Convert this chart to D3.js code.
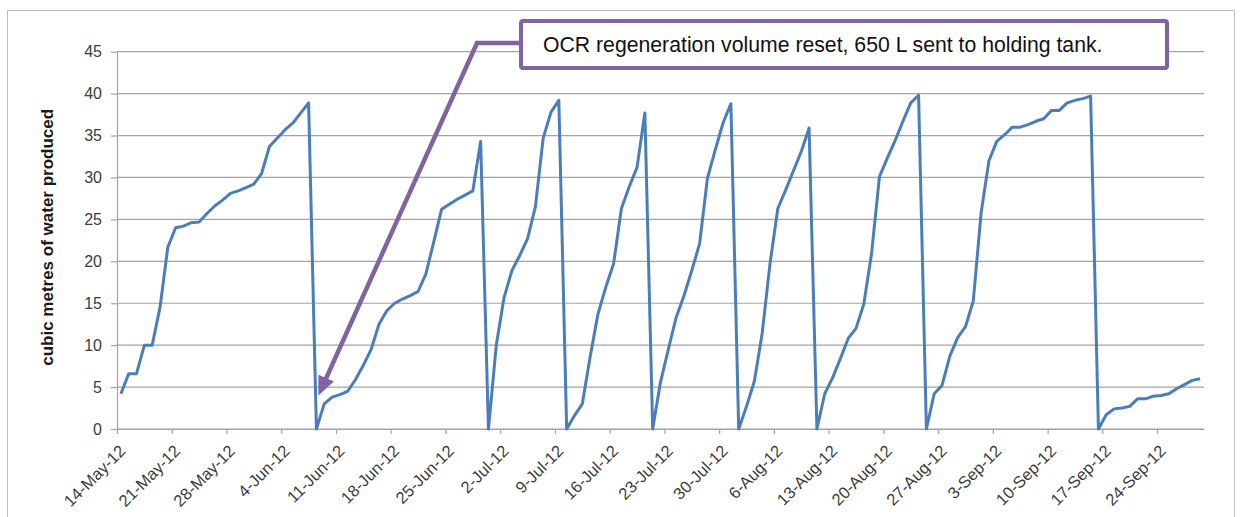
<!DOCTYPE html>
<html>
<head>
<meta charset="utf-8">
<script src="https://cdn.jsdelivr.net/npm/d3@7"></script>
<style>
  html, body { margin: 0; padding: 0; background: #ffffff; }
  svg { display: block; font-family: "Liberation Sans", Arial, sans-serif; }
</style>
</head>
<body>
<svg id="chart" width="1244" height="517"></svg>
<script>
// Daily cumulative product water volume (m³) since the last OCR regeneration.
const firstDay = "2012-05-14";
const lastAxisDay = "2012-09-30";
const volume = [
  4.2, 6.6, 6.6, 10.0, 10.0, 14.5, 21.7, 24.0, 24.2, 24.6,
  24.7, 25.7, 26.6, 27.3, 28.1, 28.4, 28.8, 29.2, 30.5, 33.7,
  34.7, 35.7, 36.5, 37.7, 38.9, 0.0, 3.0, 3.8, 4.1, 4.5,
  5.9, 7.6, 9.5, 12.5, 14.1, 15.0, 15.5, 15.9, 16.4, 18.5,
  22.3, 26.2, 26.8, 27.4, 27.9, 28.4, 34.3, 0.0, 10.0, 15.7,
  18.9, 20.7, 22.7, 26.5, 34.7, 37.8, 39.2, 0.0, 1.6, 3.0,
  8.6, 13.7, 16.9, 19.7, 26.3, 28.9, 31.2, 37.7, 0.0, 5.6,
  9.5, 13.3, 15.9, 18.9, 22.1, 29.9, 33.3, 36.5, 38.8, 0.0,
  2.7, 5.7, 11.4, 19.7, 26.3, 28.5, 30.8, 33.1, 35.9, 0.0,
  4.2, 6.1, 8.4, 10.8, 12.0, 14.9, 21.0, 30.1, 32.3, 34.4,
  36.7, 38.9, 39.8, 0.0, 4.2, 5.2, 8.7, 10.9, 12.2, 15.3,
  25.8, 32.0, 34.3, 35.1, 36.0, 36.0, 36.3, 36.7, 37.0, 38.0,
  38.0, 38.9, 39.2, 39.4, 39.7, 0.0, 1.7, 2.4, 2.5, 2.7,
  3.6, 3.6, 3.9, 4.0, 4.2, 4.8, 5.3, 5.8, 6.0
];

const yTicks = [0, 5, 10, 15, 20, 25, 30, 35, 40, 45];
const xTickLabels = [
  "14-May-12", "21-May-12", "28-May-12", "4-Jun-12", "11-Jun-12",
  "18-Jun-12", "25-Jun-12", "2-Jul-12", "9-Jul-12", "16-Jul-12",
  "23-Jul-12", "30-Jul-12", "6-Aug-12", "13-Aug-12", "20-Aug-12",
  "27-Aug-12", "3-Sep-12", "10-Sep-12", "17-Sep-12", "24-Sep-12"
];
const yTitle = "cubic metres of water produced";
const noteText = "OCR regeneration volume reset, 650 L sent to holding tank.";
// the reset the callout points at
const noteTarget = { time: "2012-06-08T18:00", value: 4 };

const plot = { left: 117, right: 1204, top: 51.7, bottom: 429 };
const lineBlue = "#4a7ebb";
const gridGrey = "#a3a3a3";
const notePurple = "#8064a2";
const labelColor = "#3c3c3c";

const parseDay = d3.timeParse("%Y-%m-%d");
const parseTick = d3.timeParse("%d-%b-%y");
const parseTime = d3.timeParse("%Y-%m-%dT%H:%M");

const start = parseDay(firstDay);
// readings are logged around midday
const series = volume.map((v, i) => ({
  date: d3.timeHour.offset(d3.timeDay.offset(start, i), 12),
  value: v
}));

const x = d3.scaleTime()
  .domain([start, parseDay(lastAxisDay)])
  .range([plot.left, plot.right]);
const y = d3.scaleLinear()
  .domain([0, 45])
  .range([plot.bottom, plot.top]);

const svg = d3.select("#chart");

// outer chart frame
svg.append("rect")
  .attr("x", 7.5).attr("y", 10.5)
  .attr("width", 1227).attr("height", 530)
  .attr("fill", "none")
  .attr("stroke", "#bdbdbd")
  .attr("stroke-width", 1);

// horizontal gridlines
svg.append("g")
  .selectAll("line")
  .data(yTicks)
  .join("line")
  .attr("x1", plot.left).attr("x2", plot.right)
  .attr("y1", d => y(d)).attr("y2", d => y(d))
  .attr("stroke", gridGrey)
  .attr("stroke-width", 1.2);

// y axis
const yAxis = svg.append("g")
  .attr("transform", `translate(${plot.left},0)`)
  .call(d3.axisLeft(y).tickValues(yTicks).tickSize(6).tickPadding(9).tickSizeOuter(0));
yAxis.select(".domain").attr("stroke", gridGrey).attr("stroke-width", 1.2);
yAxis.selectAll(".tick line").attr("stroke", gridGrey).attr("stroke-width", 1.2);
yAxis.selectAll(".tick text")
  .attr("font-size", 16)
  .attr("font-family", "Liberation Sans, Arial, sans-serif")
  .attr("fill", labelColor);

// x axis with rotated date labels
const tickDates = xTickLabels.map(s => parseTick(s));
const xAxis = svg.append("g")
  .attr("transform", `translate(0,${plot.bottom})`)
  .call(d3.axisBottom(x)
    .tickValues(tickDates)
    .tickSize(5)
    .tickSizeOuter(0)
    .tickFormat((d, i) => xTickLabels[i]));
xAxis.select(".domain").attr("stroke", gridGrey).attr("stroke-width", 1.2);
xAxis.selectAll(".tick line").attr("stroke", gridGrey).attr("stroke-width", 1.2);
xAxis.selectAll(".tick text")
  .attr("font-size", 16.5)
  .attr("font-family", "Liberation Sans, Arial, sans-serif")
  .attr("fill", labelColor)
  .attr("text-anchor", "end")
  .attr("x", 0).attr("y", 0).attr("dy", "0.35em")
  .attr("transform", "translate(5,19) rotate(-45)");

// y axis title
svg.append("text")
  .attr("transform", `translate(53,${(plot.top + plot.bottom) / 2 - 3}) rotate(-90)`)
  .attr("text-anchor", "middle")
  .attr("font-size", 17)
  .attr("font-weight", "bold")
  .attr("fill", "#1a1a1a")
  .text(yTitle);

// volume series
const line = d3.line()
  .x(d => x(d.date))
  .y(d => y(d.value));
svg.append("path")
  .datum(series)
  .attr("d", line)
  .attr("fill", "none")
  .attr("stroke", lineBlue)
  .attr("stroke-width", 3)
  .attr("stroke-linejoin", "round");

// callout: leader line with arrowhead, then the boxed note
const tip = [x(parseTime(noteTarget.time)), y(noteTarget.value)];
const box = { x: 521, y: 21, w: 646, h: 47 };
const elbow = [box.x - 44, 43];
const dx = tip[0] - elbow[0], dy = tip[1] - elbow[1];
const len = Math.hypot(dx, dy);
const ux = dx / len, uy = dy / len;
const headLen = 19, headHalf = 8.5;
const base = [tip[0] - ux * headLen, tip[1] - uy * headLen];

svg.append("path")
  .attr("d", `M${box.x},${elbow[1]} L${elbow[0]},${elbow[1]} L${base[0] + ux * 2},${base[1] + uy * 2}`)
  .attr("fill", "none")
  .attr("stroke", notePurple)
  .attr("stroke-width", 4.5)
  .attr("stroke-linejoin", "miter");
svg.append("path")
  .attr("d", `M${tip[0]},${tip[1]}
    L${base[0] - uy * headHalf},${base[1] + ux * headHalf}
    L${base[0] + uy * headHalf},${base[1] - ux * headHalf} Z`)
  .attr("fill", notePurple);

svg.append("rect")
  .attr("x", box.x).attr("y", box.y)
  .attr("width", box.w).attr("height", box.h)
  .attr("rx", 2)
  .attr("fill", "#ffffff")
  .attr("stroke", notePurple)
  .attr("stroke-width", 4);

const note = svg.append("text")
  .attr("x", 543).attr("y", 52)
  .attr("font-size", 19)
  .attr("fill", "#111111")
  .text(noteText);
// size the note so it spans the box the same way at any font metrics
const natural = note.node().getComputedTextLength();
note.attr("font-size", 19 * 560 / natural);
</script>
</body>
</html>
